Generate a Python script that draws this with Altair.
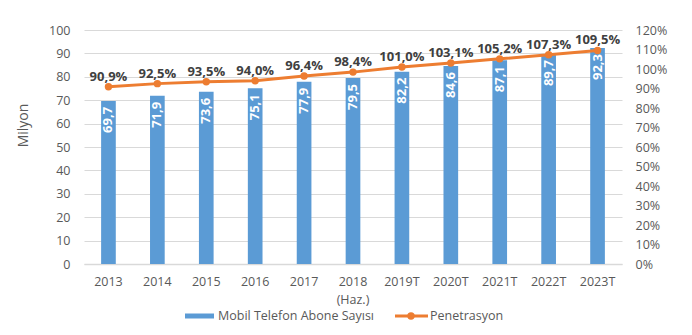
import altair as alt
import pandas as pd

years = ["2013", "2014", "2015", "2016", "2017", "2018", "2019T", "2020T", "2021T", "2022T", "2023T"]
subscribers = [69.7, 71.9, 73.6, 75.1, 77.9, 79.5, 82.2, 84.6, 87.1, 89.7, 92.3]
penetration = [90.9, 92.5, 93.5, 94.0, 96.4, 98.4, 101.0, 103.1, 105.2, 107.3, 109.5]
left_ticks = list(range(0, 101, 10))
right_ticks = list(range(0, 121, 10))

df = pd.DataFrame({"year": years, "sub": subscribers, "pen": penetration})
df["sub_label"] = [f"{v:.1f}".replace(".", ",") for v in subscribers]
df["pen_label"] = [f"{v:.1f}".replace(".", ",") + "%" for v in penetration]

FONT = "Open Sans"
BLUE = "#5B9BD5"
ORANGE = "#ED7D31"
GRAY = "#595959"

x_enc = alt.X(
    "year:N", sort=years, title=None,
    scale=alt.Scale(paddingInner=0.7, paddingOuter=0.35),
    axis=alt.Axis(
        labelExpr="datum.value == '2018' ? ['2018', '(Haz.)'] : datum.value",
        labelAngle=0, ticks=False, domainColor="#D9D9D9", domainWidth=1.5,
        labelPadding=11, labelLineHeight=18, labelFont=FONT, labelFontSize=12.5,
        labelColor=GRAY,
    ),
)

y_left = alt.Y(
    "sub:Q",
    scale=alt.Scale(domain=[0, 100], nice=False),
    axis=alt.Axis(
        values=left_ticks, title="Milyon", titleFont=FONT, titleFontSize=14,
        titleFontWeight="normal", titleColor=GRAY, titleAngle=270,
        titleX=-61, titleY=95, titleAlign="center", titleBaseline="middle",
        labelPadding=14, ticks=False, domain=False, grid=True,
        gridColor="#D9D9D9", gridWidth=1, labelFont=FONT, labelFontSize=12.5,
        labelColor=GRAY,
    ),
)

y_right = alt.Y(
    "pen:Q",
    scale=alt.Scale(domain=[0, 120], nice=False),
    axis=alt.Axis(
        orient="right", values=right_ticks, labelExpr="datum.value + '%'",
        title=None, grid=False, ticks=False, domain=False, labelPadding=13,
        labelFont=FONT, labelFontSize=12.5, labelColor=GRAY,
    ),
)

base = alt.Chart(df)

bars = base.mark_bar(color=BLUE).encode(x=x_enc, y=y_left)
bar_text = base.mark_text(
    angle=270, align="right", baseline="middle", dx=-6, color="white",
    font=FONT, fontWeight="bold", fontSize=13,
).encode(x=x_enc, y=y_left, text="sub_label:N")

line = base.mark_line(color=ORANGE, strokeWidth=3).encode(x=x_enc, y=y_right)
points = base.mark_point(color=ORANGE, filled=True, size=55, opacity=1).encode(x=x_enc, y=y_right)
line_text = base.mark_text(
    align="center", baseline="alphabetic", dy=-6, color="#404040",
    font=FONT, fontWeight="bold", fontSize=13,
).encode(x=x_enc, y=y_right, text="pen_label:N")

left_layer = alt.layer(bars, bar_text)
right_layer = alt.layer(line, points, line_text)

one = alt.Chart(pd.DataFrame({"a": [0]}))
leg_rect = one.mark_rect(color=BLUE).encode(
    x=alt.value(101), x2=alt.value(130), y=alt.value(283.5), y2=alt.value(288.5))
leg_text1 = one.mark_text(align="left", baseline="middle", font=FONT, fontSize=12.5, color=GRAY).encode(
    x=alt.value(134), y=alt.value(286), text=alt.value("Mobil Telefon Abone Sayısı"))
leg_line = one.mark_rule(color=ORANGE, strokeWidth=3).encode(
    x=alt.value(311), x2=alt.value(344), y=alt.value(286))
leg_dot = one.mark_point(color=ORANGE, filled=True, size=55, opacity=1).encode(
    x=alt.value(327), y=alt.value(286))
leg_text2 = one.mark_text(align="left", baseline="middle", font=FONT, fontSize=12.5, color=GRAY).encode(
    x=alt.value(346), y=alt.value(286), text=alt.value("Penetrasyon"))

chart = alt.layer(
    left_layer, right_layer, leg_rect, leg_text1, leg_line, leg_dot, leg_text2
).resolve_scale(y="independent").properties(
    width=538, height=234,
    padding={"left": 84, "top": 30, "right": 70, "bottom": 71},
    autosize=alt.AutoSizeParams(type="none"),
    background="white",
).configure_view(stroke=None)

chart.save("out.html", embed_options={"renderer": "svg", "actions": False})
